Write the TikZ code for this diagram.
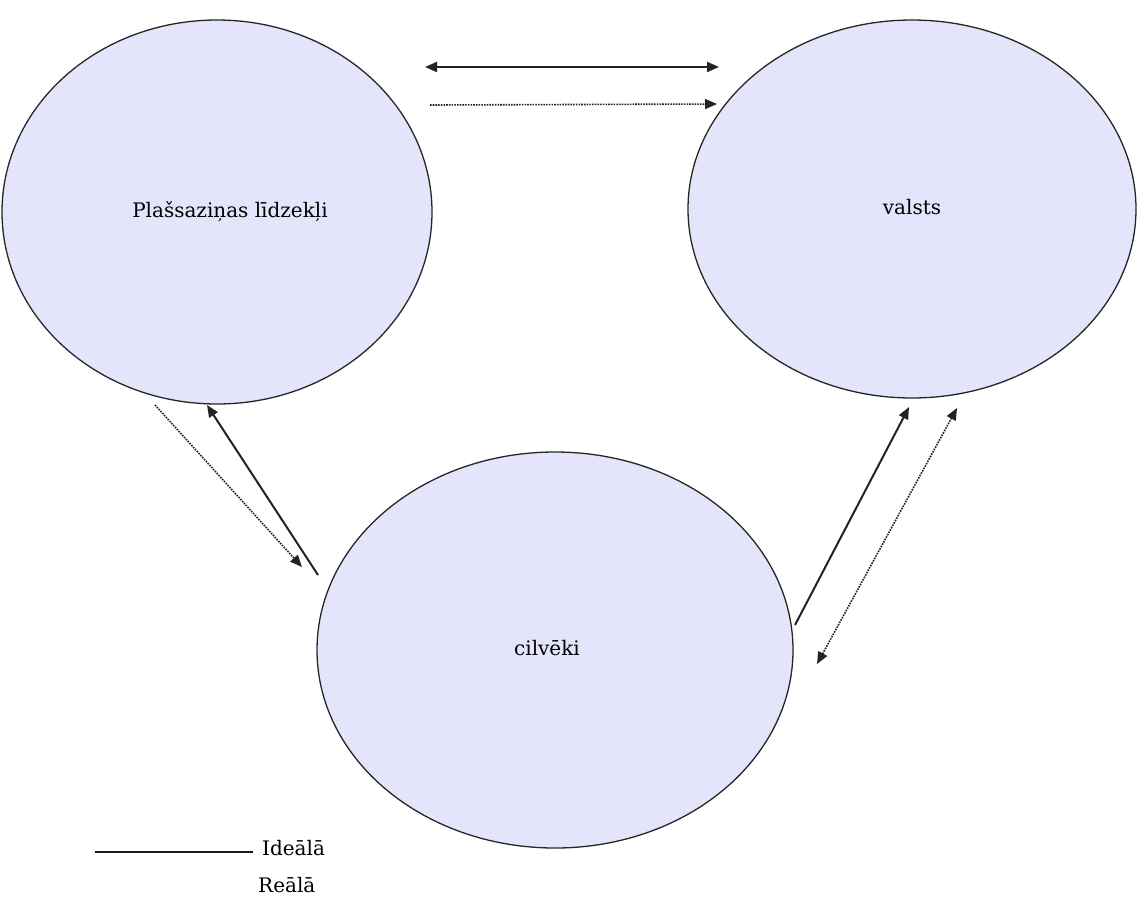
\documentclass[tikz,border=0pt]{standalone}
\usepackage{fontspec}
\setmainfont{DejaVu Serif}
\usetikzlibrary{arrows.meta,shapes.geometric}
\definecolor{blobfill}{RGB}{228,228,250}
\definecolor{arrowcol}{RGB}{35,35,35}
\tikzset{
  blob/.style={ellipse, draw=black!85, line width=1.3pt, fill=blobfill, inner sep=0pt},
  lbl/.style={font=\fontsize{20}{24}\selectfont, text=black, inner sep=0pt},
  solidarrow/.style={draw=arrowcol, line width=2pt, -{Triangle[length=12pt,width=10pt]}},
  dottedarrow/.style={draw=arrowcol, line width=1.6pt, dash pattern=on 1.6pt off 1.1pt, -{Triangle[length=12pt,width=10pt]}},
}
\begin{document}
\begin{tikzpicture}[x=1pt,y=-1pt]
\useasboundingbox (0,0) rectangle (1137,922);
% ellipses
\node[blob, minimum width=430pt, minimum height=384pt] (media) at (217,212) {};
\node[blob, minimum width=448pt, minimum height=378pt] (state) at (912,209) {};
\node[blob, minimum width=476pt, minimum height=396pt] (people) at (555,650) {};
% labels
\node[lbl] (medialbl) at (230,212) {Plašsaziņas līdzekļi};
\node[lbl] (statelbl) at (912,207) {valsts};
\node[lbl] (peoplelbl) at (547,648) {cilvēki};
% connector end points
\coordinate (t1a) at (425,67);
\coordinate (t1b) at (719,67);
\coordinate (t2a) at (430,105);
\coordinate (t2b) at (717,104);
\coordinate (l1a) at (155,405);
\coordinate (l1b) at (302,567);
\coordinate (l2a) at (318,575);
\coordinate (l2b) at (207,405);
\coordinate (r1a) at (795,625);
\coordinate (r1b) at (909,407);
\coordinate (r2a) at (817,664);
\coordinate (r2b) at (957,408);
% connectors
\draw[solidarrow, {Triangle[length=12pt,width=10pt]}-{Triangle[length=12pt,width=10pt]}] (t1a) -- (t1b);
\draw[dottedarrow] (t2a) -- (t2b);
\draw[dottedarrow] (l1a) -- (l1b);
\draw[solidarrow] (l2a) -- (l2b);
\draw[solidarrow] (r1a) -- (r1b);
\draw[dottedarrow, {Triangle[length=12pt,width=10pt]}-{Triangle[length=12pt,width=10pt]}] (r2a) -- (r2b);
% legend
\coordinate (lega) at (95,852);
\coordinate (legb) at (253,852);
\draw[line width=1.6pt, black!90] (lega) -- (legb);
\node[lbl, anchor=west] (ideal) at (262,848) {Ideālā};
\node[lbl, anchor=west] (real) at (258,885) {Reālā};
\end{tikzpicture}
\end{document}
